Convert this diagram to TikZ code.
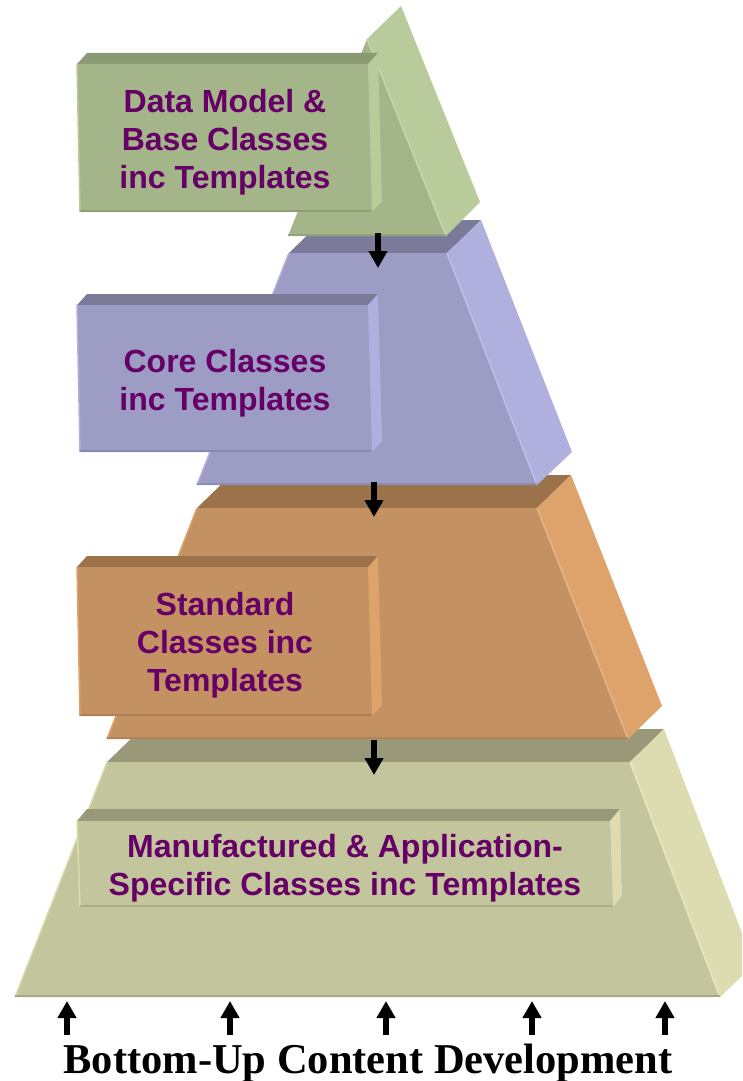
\documentclass[tikz,border=0pt]{standalone}
\usepackage{fontspec}
\setmainfont{Liberation Serif}
\setsansfont{Liberation Sans}
\usepackage{xcolor}
\usetikzlibrary{arrows.meta}

\definecolor{txtpurple}{HTML}{660066}
\definecolor{greenFront}{HTML}{A4B58A}
\definecolor{greenSide}{HTML}{BACB9B}
\definecolor{greenTop}{HTML}{8A9A72}
\definecolor{purpleFront}{HTML}{9C9CC4}
\definecolor{purpleSide}{HTML}{B0B0DE}
\definecolor{purpleTop}{HTML}{7B7B99}
\definecolor{orangeFront}{HTML}{C49262}
\definecolor{orangeSide}{HTML}{DDA36B}
\definecolor{orangeTop}{HTML}{9C724A}
\definecolor{oliveFront}{HTML}{C3C59C}
\definecolor{oliveSide}{HTML}{DCDCB0}
\definecolor{oliveTop}{HTML}{999979}

\begin{document}
\begin{tikzpicture}[x=1pt, y=-1pt,
    boxtext/.style={font=\sffamily\bfseries\fontsize{32}{38}\selectfont, text=txtpurple, align=center},
    flowarrow/.style={line width=6pt, -{Triangle[width=18pt,length=17pt]}},
    glint/.style={line width=1.5pt}]
\useasboundingbox (0,0) rectangle (742,1081);

% Bottom layer (olive slab)
\fill[oliveTop] (107,762) -- (141,729) -- (664,729) -- (630,762) -- cycle;
\fill[oliveFront] (107,762) -- (630,762) -- (720,997) -- (15,997) -- cycle;
\fill[oliveSide] (630,762) -- (664,729) -- (742,933) -- (742,976) -- (720,997) -- cycle;
\draw[glint, oliveSide] (107,762) -- (15,997);
\draw[glint, oliveSide!70!white] (630,762) -- (720,997);
\draw[glint, oliveFront!85!black] (15,996) -- (720,996);

% Third layer (orange slab)
\fill[orangeTop] (197,508) -- (231,475) -- (571,475) -- (537,508) -- cycle;
\fill[orangeFront] (197,508) -- (537,508) -- (628,739) -- (107,739) -- cycle;
\fill[orangeSide] (537,508) -- (571,475) -- (662,706) -- (628,739) -- cycle;
\draw[glint, orangeSide] (197,508) -- (107,739);
\draw[glint, orangeSide!80!white] (537,508) -- (628,739);
\draw[glint, orangeFront!90!black] (107,738) -- (628,738);

% Second layer (purple slab)
\fill[purpleTop] (289,253) -- (323,220) -- (481,220) -- (447,253) -- cycle;
\fill[purpleFront] (289,253) -- (447,253) -- (537,485) -- (197,485) -- cycle;
\fill[purpleSide] (447,253) -- (481,220) -- (572,452) -- (537,485) -- cycle;
\draw[glint, purpleSide] (289,253) -- (197,485);
\draw[glint, purpleSide!80!white] (447,253) -- (537,485);
\draw[glint, purpleFront!90!black] (197,484) -- (537,484);

% Top layer (green wedge)
\fill[greenFront] (288,236) -- (446,236) -- (367,39) -- cycle;
\fill[greenSide] (367,39) -- (401,6) -- (480,202) -- (446,236) -- cycle;
\draw[glint, greenSide!80!white] (367,39) -- (446,236);
\draw[glint, greenFront!90!black] (288,235) -- (446,235);

% Bevelled label blocks
\foreach \yt/\yb/\f/\t/\s in {64/212/greenFront/greenTop/greenSide,
    305/452/purpleFront/purpleTop/purpleSide,
    567/716/orangeFront/orangeTop/orangeSide} {
    \fill[\t] (77,\yt) -- (87,\yt-11) -- (378,\yt-11) -- (368,\yt) -- cycle;
    \fill[\f] (77,\yt) -- (368,\yt) -- (372,\yb) -- (80,\yb) -- cycle;
    \fill[\s] (368,\yt) -- (378,\yt-11) -- (382,\yb-11) -- (372,\yb) -- cycle;
    \draw[glint, \s] (77,\yt) -- (80,\yb);
    \draw[glint, \f!88!black] (80,\yb-1) -- (372,\yb-1);
}
\fill[oliveTop] (77,821) -- (87,809) -- (620,809) -- (610,821) -- cycle;
\fill[oliveFront] (77,821) -- (610,821) -- (613,907) -- (80,907) -- cycle;
\fill[oliveSide] (610,821) -- (620,809) -- (622,896) -- (613,907) -- cycle;
\draw[glint, oliveSide] (77,821) -- (80,907);
\draw[glint, oliveFront!88!black] (80,906) -- (613,906);

% Block labels
\node[boxtext] (datatxt) at (225,142) {Data Model \&\\Base Classes\\inc Templates};
\node[boxtext] (coretxt) at (225,383) {Core Classes\\inc Templates};
\node[boxtext] (stdtxt) at (225,645) {Standard\\Classes inc\\Templates};
\node[boxtext] (mfgtxt) at (345,868) {Manufactured \& Application-\\Specific Classes inc Templates};

% Flow between layers
\coordinate (flow1a) at (378,233);
\coordinate (flow1b) at (378,268);
\coordinate (flow2a) at (374,482);
\coordinate (flow2b) at (374,517);
\coordinate (flow3a) at (374,740);
\coordinate (flow3b) at (374,775);
\draw[flowarrow] (flow1a) -- (flow1b);
\draw[flowarrow] (flow2a) -- (flow2b);
\draw[flowarrow] (flow3a) -- (flow3b);

% Bottom-up arrows and caption
\foreach \x [count=\i] in {67,230,386,532,665} {
    \coordinate (up\i a) at (\x,1035);
    \coordinate (up\i b) at (\x,1001);
    \draw[flowarrow] (up\i a) -- (up\i b);
}
\node[font=\bfseries\fontsize{42.5}{50}\selectfont, anchor=base] (caption) at (368,1073) {Bottom-Up Content Development};
\end{tikzpicture}
\end{document}
